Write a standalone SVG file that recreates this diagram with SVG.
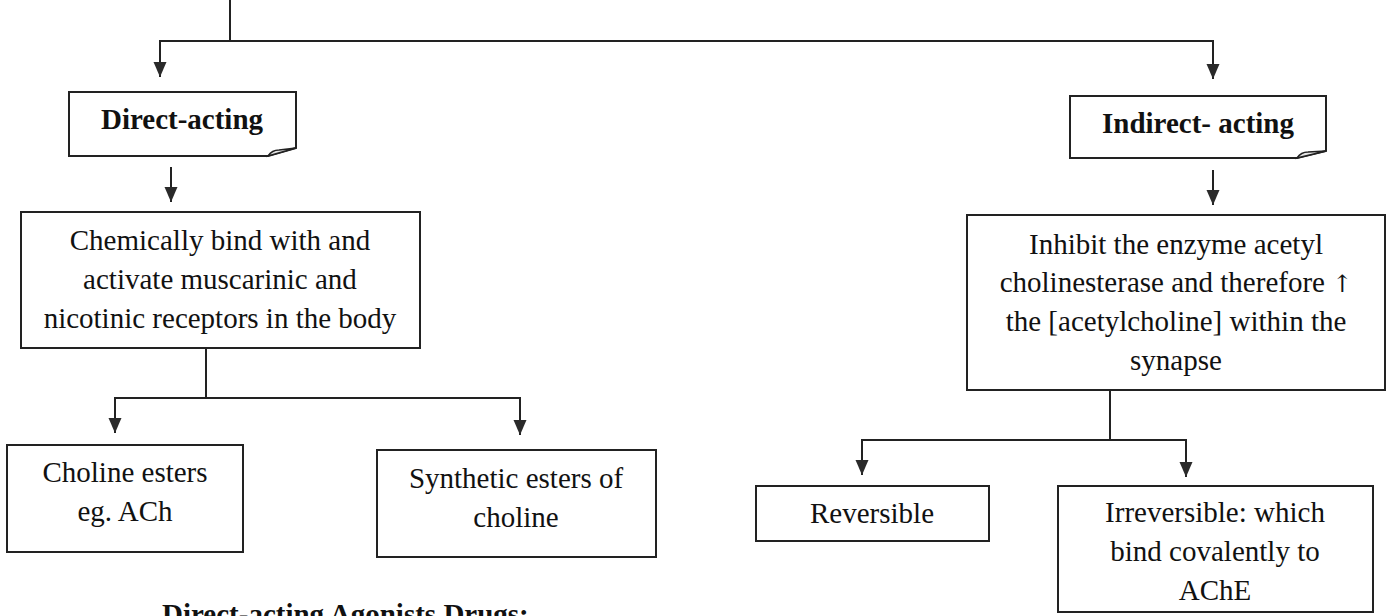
<svg xmlns="http://www.w3.org/2000/svg" width="1391" height="616" viewBox="0 0 1391 616">
<defs>
<marker id="ah" markerUnits="userSpaceOnUse" markerWidth="16" markerHeight="14" refX="15" refY="6.5" orient="auto">
<path d="M0,0 L15,6.5 L0,13 Z" fill="#2a2a2a"/>
</marker>
<style>
.box{fill:#fff;stroke:#222;stroke-width:2}
.fold{fill:#e6e6e6;stroke:#222;stroke-width:1.5}
.t{font-family:"Liberation Serif","Times New Roman",serif;font-size:29px;fill:#111;text-anchor:middle}
.b{font-weight:bold}
.c{fill:none;stroke:#222;stroke-width:2}
</style>
</defs>
<g id="connectors">
<path class="c" d="M230,0 V41"/>
<path class="c" d="M230,41 H160 V77" marker-end="url(#ah)"/>
<path class="c" d="M230,41 H1213 V79" marker-end="url(#ah)"/>
<path class="c" d="M171,167 V202" marker-end="url(#ah)"/>
<path class="c" d="M206,348 V398"/>
<path class="c" d="M206,398 H115 V433" marker-end="url(#ah)"/>
<path class="c" d="M206,398 H520 V435" marker-end="url(#ah)"/>
<path class="c" d="M1213,170 V205" marker-end="url(#ah)"/>
<path class="c" d="M1110,390 V440"/>
<path class="c" d="M1110,440 H862 V475" marker-end="url(#ah)"/>
<path class="c" d="M1110,440 H1186 V477" marker-end="url(#ah)"/>
</g>
<g id="direct-acting">
<path class="box" d="M69,92 H296 V148 L268,156 H69 Z"/>
<path class="fold" d="M268,156 Q272,150 279,150 L296,148 Z"/>
<text class="t b" x="182" y="129">Direct-acting</text>
</g>
<g id="indirect-acting">
<path class="box" d="M1070,96 H1326 V151 L1297,158 H1070 Z"/>
<path class="fold" d="M1297,158 Q1301,152 1308,152 L1326,151 Z"/>
<text class="t b" x="1198" y="133">Indirect- acting</text>
</g>
<g id="chemically-bind">
<rect class="box" x="21" y="212" width="399" height="136"/>
<text class="t" x="220" y="250">Chemically bind with and</text>
<text class="t" x="220" y="289">activate muscarinic and</text>
<text class="t" x="220" y="328">nicotinic receptors in the body</text>
</g>
<g id="inhibit-enzyme">
<rect class="box" x="967" y="215" width="418" height="175"/>
<text class="t" x="1176" y="254">Inhibit the enzyme acetyl</text>
<text class="t" x="1176" y="292">cholinesterase and therefore <tspan style="font-family:'DejaVu Serif',serif;font-size:24px">↑</tspan></text>
<text class="t" x="1176" y="331">the [acetylcholine] within the</text>
<text class="t" x="1176" y="370">synapse</text>
</g>
<g id="choline-esters">
<rect class="box" x="7" y="445" width="236" height="107"/>
<text class="t" x="125" y="482">Choline esters</text>
<text class="t" x="125" y="521">eg. ACh</text>
</g>
<g id="synthetic-esters">
<rect class="box" x="377" y="450" width="279" height="107"/>
<text class="t" x="516" y="488">Synthetic esters of</text>
<text class="t" x="516" y="527">choline</text>
</g>
<g id="reversible">
<rect class="box" x="756" y="486" width="233" height="55"/>
<text class="t" x="872" y="523">Reversible</text>
</g>
<g id="irreversible">
<rect class="box" x="1058" y="486" width="315" height="126"/>
<text class="t" x="1215" y="522">Irreversible: which</text>
<text class="t" x="1215" y="561">bind covalently to</text>
<text class="t" x="1215" y="600">AChE</text>
</g>
<text class="t b" x="162" y="624" style="text-anchor:start">Direct-acting Agonists Drugs:</text>
</svg>
